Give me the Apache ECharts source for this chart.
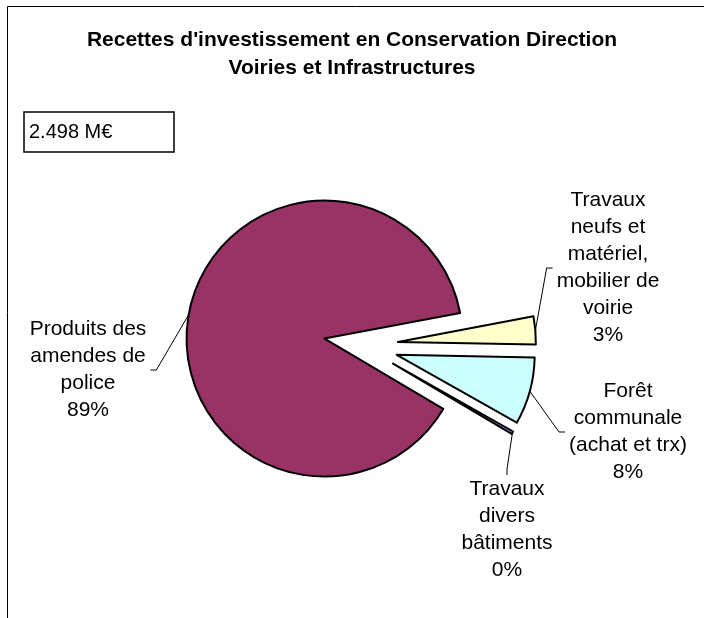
<!DOCTYPE html>
<html>
<head>
<meta charset="utf-8">
<script src="https://cdn.jsdelivr.net/npm/echarts@6/dist/echarts.min.js"></script>
<style>
  html, body { margin: 0; padding: 0; background: #fff; }
  #chart { width: 704px; height: 618px; }
</style>
</head>
<body>
<div id="chart"></div>
<script>
// Recettes d'investissement (M€), listed in the order the slices run clockwise
const categories = [
  'Travaux divers bâtiments',
  'Produits des amendes de police',
  'Travaux neufs et matériel, mobilier de voirie',
  'Forêt communale (achat et trx)'
];
const values = [0.008, 2.211, 0.082, 0.197];
const labelLines = [
  ['Travaux', 'divers', 'bâtiments'],
  ['Produits des', 'amendes de', 'police'],
  ['Travaux', 'neufs et', 'matériel,', 'mobilier de', 'voirie'],
  ['Forêt', 'communale', '(achat et trx)']
];
const titleLines = ["Recettes d'investissement en Conservation Direction", 'Voiries et Infrastructures'];
const totalText = '2.498 M€';
const colors = ['#9999FF', '#993366', '#FFFFCC', '#CCFFFF'];

// Label block centres and the side of the block the leader line enters
const labelPlacement = [
  { x: 507, y: 530, side: 'top' },
  { x: 88, y: 370, side: 'right' },
  { x: 608, y: 268, side: 'left' },
  { x: 628, y: 432, side: 'left' }
];

const FONT = '"Liberation Sans", Arial, Helvetica, sans-serif';
const PIE_CENTER = [361, 345];
const PIE_RADIUS = 138;
const START_ANGLE = 330.5;
const EXPLODE = 37;

const chart = echarts.init(document.getElementById('chart'), null, { renderer: 'canvas' });

const pieData = categories.map((name, i) => ({
  name: name,
  value: values[i],
  itemStyle: { color: colors[i] }
}));

chart.setOption({
  backgroundColor: '#fff',
  animation: false,
  graphic: [{
    type: 'rect',
    shape: { x: 7.5, y: 6.5, width: 760, height: 680 },
    style: { fill: 'none', stroke: '#000', lineWidth: 1 },
    silent: true
  }],
  title: [{
    text: titleLines.join('\n'),
    left: 'center',
    top: 26,
    padding: [0, 0, 0, 8],
    textStyle: { fontFamily: FONT, fontSize: 21, fontWeight: 'bold', lineHeight: 28, color: '#000' }
  }, {
    text: totalText,
    left: 24,
    top: 112,
    padding: [8, 62, 8, 5],
    borderColor: '#000',
    borderWidth: 1.5,
    textStyle: { fontFamily: FONT, fontSize: 20, fontWeight: 'normal', lineHeight: 24, color: '#000' }
  }],
  series: [{
    // exploded slices
    type: 'pie',
    center: PIE_CENTER,
    radius: PIE_RADIUS,
    startAngle: START_ANGLE,
    clockwise: true,
    selectedMode: 'multiple',
    selectedOffset: EXPLODE,
    emphasis: { disabled: true },
    itemStyle: { borderColor: '#000', borderWidth: 2 },
    data: pieData.map(d => Object.assign({ selected: true }, d)),
    label: { show: false },
    labelLine: { show: false }
  }, {
    // data labels with leader lines, laid out on the same pie geometry
    type: 'pie',
    center: PIE_CENTER,
    radius: PIE_RADIUS,
    startAngle: START_ANGLE,
    clockwise: true,
    silent: true,
    z: 3,
    selectedMode: false,
    avoidLabelOverlap: false,
    emphasis: { disabled: true },
    itemStyle: { color: 'rgba(0,0,0,0)', borderWidth: 0 },
    data: pieData.map(d => ({ name: d.name, value: d.value })),
    label: {
      show: true,
      position: 'outside',
      color: '#000',
      fontFamily: FONT,
      fontSize: 21,
      lineHeight: 27,
      formatter: p => labelLines[p.dataIndex].join('\n') + '\n' + Math.round(p.percent) + '%'
    },
    labelLine: {
      show: true,
      length: 10,
      length2: 10,
      lineStyle: { color: '#000', width: 1 }
    },
    labelLayout: function (p) {
      const pl = labelPlacement[p.dataIndex];
      const w = p.labelRect.width;
      const h = p.labelRect.height;
      // slice edge at its mid angle, pushed out along the explode direction
      let start = p.labelLinePoints ? p.labelLinePoints[0].slice() : [pl.x, pl.y];
      const vx = start[0] - PIE_CENTER[0];
      const vy = start[1] - PIE_CENTER[1];
      const len = Math.sqrt(vx * vx + vy * vy) || 1;
      start = [start[0] + EXPLODE * vx / len, start[1] + EXPLODE * vy / len];
      let end, elbow;
      if (pl.side === 'right') {
        end = [pl.x + w / 2 + 4, pl.y];
        elbow = [end[0] + 6, pl.y];
      } else if (pl.side === 'left') {
        end = [pl.x - w / 2 - 4, pl.y];
        elbow = [end[0] - 6, pl.y];
      } else {
        end = [pl.x, pl.y - h / 2 - 1];
        elbow = [pl.x, end[1] - 6];
      }
      return {
        x: pl.x,
        y: pl.y,
        align: 'center',
        verticalAlign: 'middle',
        labelLinePoints: [start, elbow, end]
      };
    }
  }]
});
</script>
</body>
</html>
